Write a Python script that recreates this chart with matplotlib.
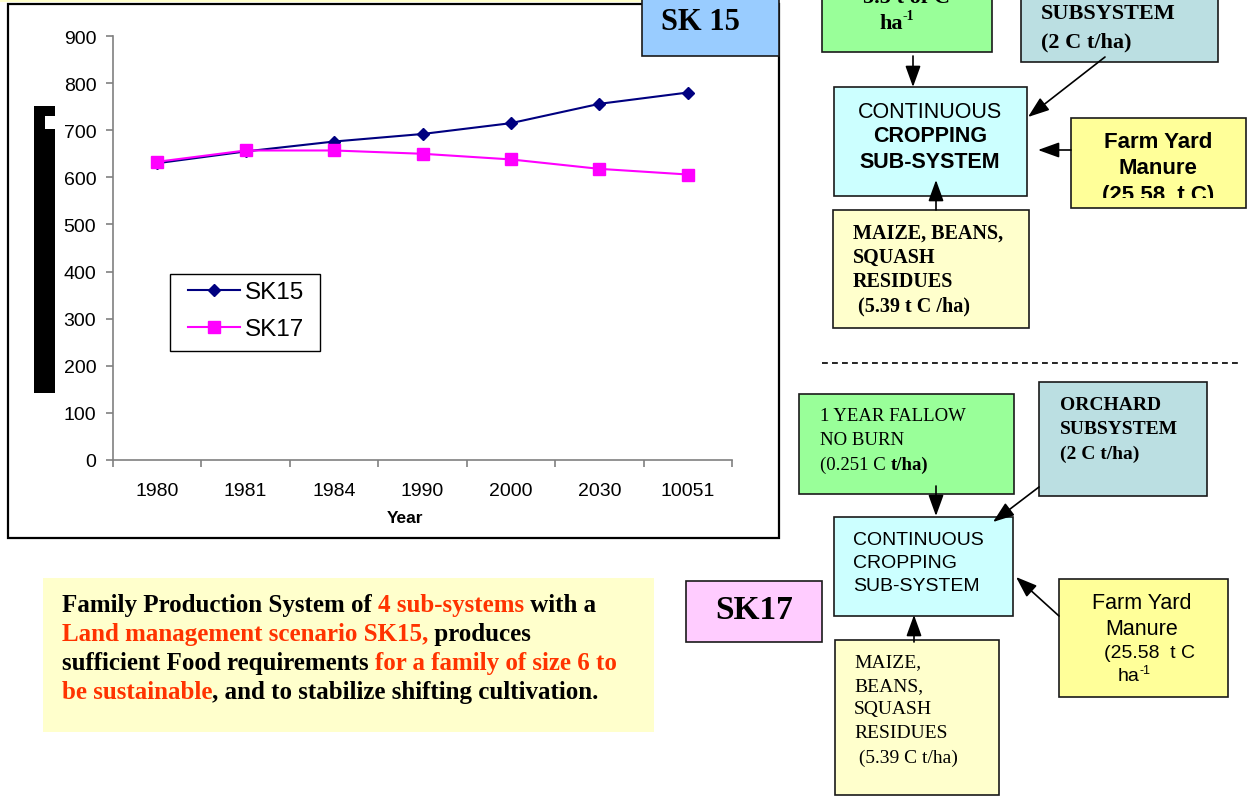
import matplotlib.pyplot as plt
from matplotlib.patches import Rectangle

years = ['1980', '1981', '1984', '1990', '2000', '2030', '10051']
sk15 = [630, 655, 676, 692, 715, 756, 780]
sk17 = [633, 657, 657, 650, 638, 618, 606]
y_ticks = [0, 100, 200, 300, 400, 500, 600, 700, 800, 900]

SANS = 'Liberation Sans'
SERIF = 'Liberation Serif'
RED = '#FF3300'

W, H = 1249, 803
fig = plt.figure(figsize=(W / 100, H / 100), dpi=100)

# chart axes, placed in pixel terms
ax = fig.add_axes([113 / W, 1 - 461 / H, (732 - 113) / W, (461 - 37) / H])
ax.patch.set_alpha(0)
xs = list(range(len(years)))
ax.plot(xs, sk15, color='#000080', marker='D', ms=6.5, lw=1.5, label='SK15')
ax.plot(xs, sk17, color='#FF00FF', marker='s', ms=8.5, lw=1.5, label='SK17')
ax.set_xlim(-0.5, len(years) - 0.5)
ax.set_ylim(0, 900)
ax.set_yticks(y_ticks)
ax.set_xticks([i - 0.5 for i in range(len(years) + 1)])
ax.set_xticklabels([])
ax.set_xticks(xs, minor=True)
ax.set_xticklabels(years, minor=True, fontsize=14, family=SANS)
ax.tick_params(axis='x', which='minor', length=0, pad=16)
ax.tick_params(axis='x', which='major', length=5, width=1.2, color='#808080', direction='out')
ax.tick_params(axis='y', length=5, width=1.2, color='#808080', pad=7, labelsize=14)
for lab in ax.get_yticklabels():
    lab.set_family(SANS)
for s in ['top', 'right']:
    ax.spines[s].set_visible(False)
for s in ['left', 'bottom']:
    ax.spines[s].set_color('#808080')
    ax.spines[s].set_linewidth(1.2)
ax.set_xlabel('Year', fontsize=12.5, fontweight='bold', family=SANS)
ax.xaxis.set_label_coords((405 - 113) / (732 - 113), -(519 - 461) / (461 - 37))
ax.xaxis.label.set_va('center')

# overlay for the slide boxes
ov = fig.add_axes([0, 0, 1, 1], zorder=5)
ov.patch.set_alpha(0)
ov.set_xlim(0, W)
ov.set_ylim(H, 0)
ov.axis('off')

# legend: frame drawn by hand, entries placed inside it
ov.add_patch(Rectangle((170, 275), 150, 77, fc='white', ec='black', lw=1.0, zorder=1))
leg = ax.legend(loc='upper left', bbox_to_anchor=(188, 282), bbox_transform=ov.transData,
                borderaxespad=0, frameon=False, prop={'family': SANS, 'size': 17.5},
                handlelength=2.15, handletextpad=0.2, labelspacing=0.63, borderpad=0,
                numpoints=1)
leg.set_zorder(6)
leg.remove()
ov.add_artist(leg)


def box(x0, y0, x1, y1, fc, lw=1.2):
    r = Rectangle((x0, y0), x1 - x0, y1 - y0, fc=fc, ec='#1a1a1a', lw=lw)
    ov.add_patch(r)
    return r


def txt(x, y, s, size, fam, bold=False, ha='left', color='black', **kw):
    return ov.text(x, y, s, fontsize=size, family=fam, fontweight='bold' if bold else 'normal',
                   ha=ha, va='center', color=color, **kw)


def arrow(x0, y0, x1, y1):
    ov.annotate('', xy=(x1, y1), xytext=(x0, y0),
                arrowprops=dict(arrowstyle='-|>,head_length=1.3,head_width=0.47', mutation_scale=10,
                                lw=1.2, color='black', shrinkA=0, shrinkB=0))


# top strip and chart frame
ov.add_patch(Rectangle((0, 0), 642, 3, fc='#FFFFCC', ec='none'))
ov.add_patch(Rectangle((8, 5), 771, 534, fill=False, ec='black', lw=1.6))
# garbled y-label block
ov.add_patch(Rectangle((34, 107), 21, 287, fc='black', ec='none'))
ov.add_patch(Rectangle((45, 117), 10, 13, fc='white', ec='none'))

# SK 15 label
box(642, -5, 779, 57, '#99CCFF')
txt(700, 23, 'SK 15', 22, SERIF, True, ha='center')

# ---- SK15 diagram (top)
box(822, -5, 992, 53, '#99FF99')
txt(907, -2, '5.5 t of C', 16, SERIF, True, ha='center')
t = txt(903, 24, 'ha', 16, SERIF, True, ha='right')
ov.annotate('-1', xy=(1, 0.85), xycoords=t, fontsize=10, family=SERIF, fontweight='bold',
            ha='left', va='center')
arrow(913, 57, 913, 88)

box(1021, -5, 1218, 63, '#BBDFE2')
txt(1041, 14, 'SUBSYSTEM', 16, SERIF, True)
txt(1041, 42, '(2 C t/ha)', 16, SERIF, True)
arrow(1105, 58, 1028, 118)

box(834, 88, 1027, 197, '#CCFFFF')
txt(930, 112, 'CONTINUOUS', 15.5, SANS, ha='center')
txt(930, 137, 'CROPPING', 15.5, SANS, True, ha='center')
txt(930, 163, 'SUB-SYSTEM', 15.5, SANS, True, ha='center')

box(1071, 119, 1246, 209, '#FFFF99')
txt(1158, 142, 'Farm Yard', 16, SANS, True, ha='center')
txt(1158, 168, 'Manure', 16, SANS, True, ha='center')
clip = Rectangle((1071, 119), 175, 80, transform=ov.transData, visible=False)
ov.add_patch(clip)
tc = txt(1158, 195, '(25.58  t C)', 16, SANS, True, ha='center')
tc.set_clip_on(True)
tc.set_clip_path(clip)
arrow(1071, 151, 1038, 151)

arrow(936, 211, 936, 181)
box(833, 211, 1029, 329, '#FFFFCC')
txt(853, 234, 'MAIZE, BEANS,', 14.5, SERIF, True)
txt(853, 258, 'SQUASH', 14.5, SERIF, True)
txt(853, 282, 'RESIDUES', 14.5, SERIF, True)
txt(853, 306, ' (5.39 t C /ha)', 14.5, SERIF, True)

ov.plot([822, 1242], [364, 364], color='black', lw=1.2, ls=(0, (3.5, 2.5)))

# ---- SK17 diagram (bottom)
box(799, 395, 1014, 495, '#99FF99')
txt(820, 417, '1 YEAR FALLOW', 13.5, SERIF)
txt(820, 441, 'NO BURN', 13.5, SERIF)
t = txt(820, 465, '(0.251 C ', 13.5, SERIF)
ov.annotate('t/ha)', xy=(1, 0.5), xycoords=t, fontsize=13.5, family=SERIF, fontweight='bold',
            ha='left', va='center')
arrow(936, 487, 936, 517)

box(1039, 383, 1207, 497, '#BBDFE2')
txt(1060, 406, 'ORCHARD', 14, SERIF, True)
txt(1060, 430, 'SUBSYSTEM', 14, SERIF, True)
txt(1060, 454, '(2 C t/ha)', 14, SERIF, True)
arrow(1039, 488, 993, 523)

box(834, 518, 1013, 617, '#CCFFFF')
txt(853, 541, 'CONTINUOUS', 14, SANS)
txt(853, 564, 'CROPPING', 14, SANS)
txt(853, 587, 'SUB-SYSTEM', 14, SANS)

box(686, 582, 822, 643, '#FFCCFF')
txt(754, 611, 'SK17', 24, SERIF, True, ha='center')

box(1059, 580, 1228, 698, '#FFFF99')
txt(1142, 604, 'Farm Yard', 15.5, SANS, ha='center')
txt(1142, 630, 'Manure', 15.5, SANS, ha='center')
txt(1150, 654, '(25.58  t C', 14, SANS, ha='center')
t = txt(1140, 677, 'ha', 14, SANS, ha='right')
ov.annotate('-1', xy=(1, 0.85), xycoords=t, fontsize=9, family=SANS, ha='left', va='center')
arrow(1059, 617, 1016, 578)

arrow(914, 643, 914, 616)
box(835, 641, 999, 796, '#FFFFCC')
txt(854, 663, 'MAIZE,', 14, SERIF)
txt(854, 687, 'BEANS,', 14, SERIF)
txt(854, 710, 'SQUASH', 14, SERIF)
txt(854, 734, 'RESIDUES', 14, SERIF)
txt(854, 758, ' (5.39 C t/ha)', 14, SERIF)

# ---- summary note
box(43, 579, 654, 733, '#FFFFCC', lw=0)
lines = [
    [('Family Production System of ', 'black'), ('4 sub-systems', RED), (' with a', 'black')],
    [('Land management scenario SK15,', RED), (' produces', 'black')],
    [('sufficient Food requirements ', 'black'), ('for a family of size 6 to', RED)],
    [('be sustainable', RED), (', and to stabilize shifting cultivation.', 'black')],
]
for i, segs in enumerate(lines):
    prev = None
    for s, c in segs:
        if prev is None:
            prev = txt(62, 606 + i * 29, s, 18, SERIF, True, color=c)
        else:
            prev = ov.annotate(s, xy=(1, 0.5), xycoords=prev, fontsize=18, family=SERIF,
                               fontweight='bold', color=c, ha='left', va='center')

fig.savefig('out.png', dpi=100)
